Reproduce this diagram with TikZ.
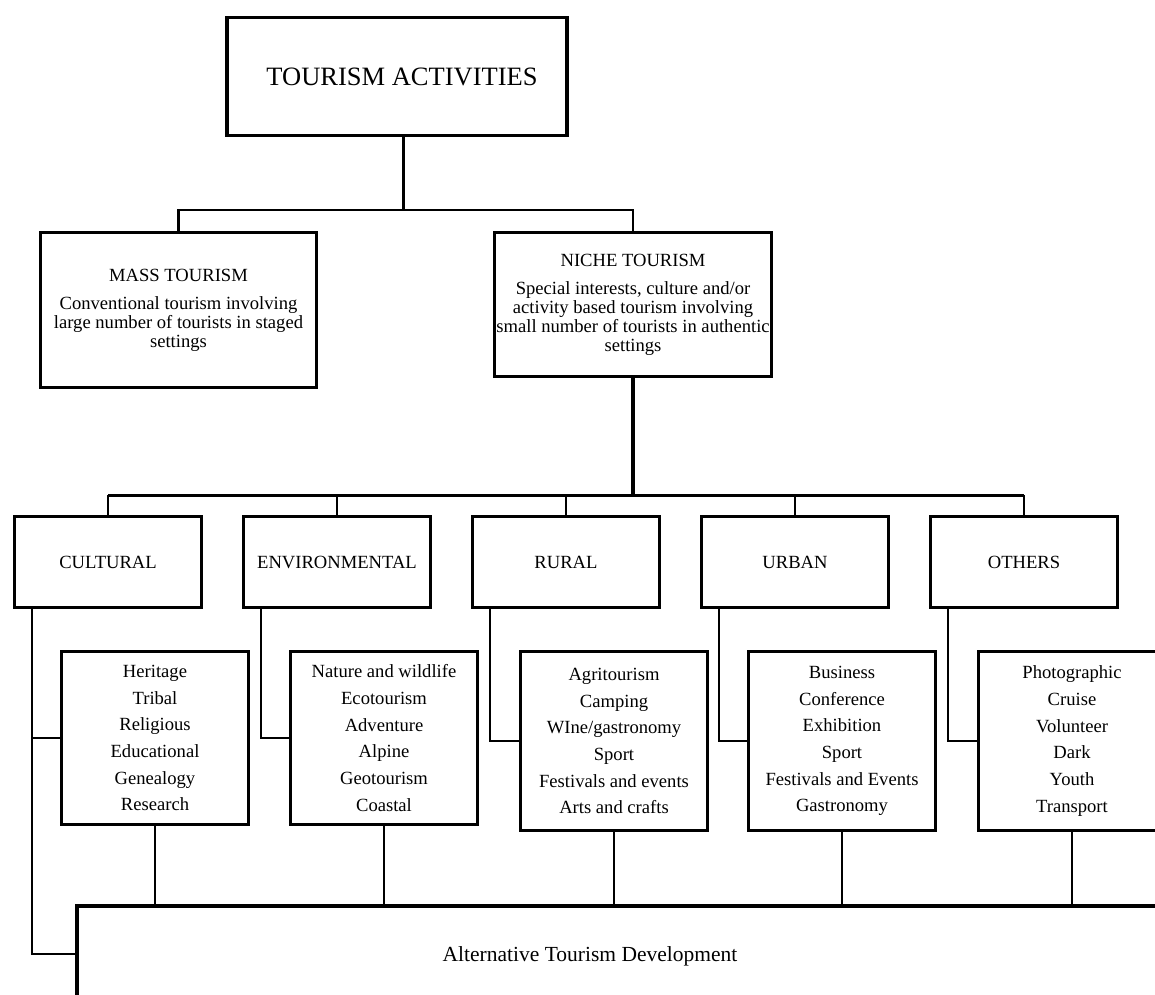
\documentclass[tikz,border=0pt]{standalone}
\usepackage{fontspec}
\setmainfont{Liberation Serif}
\tikzset{
  box/.style  = {draw, line width=3.5pt, align=center, inner sep=0pt},
  head/.style = {box, font=\fontsize{18.6}{19}\selectfont},
  cat/.style  = {box, minimum width=187pt, minimum height=91pt,
                 font=\fontsize{18.6}{22}\selectfont},
  list/.style = {box, minimum width=187pt, font=\fontsize{18.6}{26.7}\selectfont},
  link/.style = {line width=2pt},
  trunk/.style = {line width=3pt}
}

\begin{document}
\begin{tikzpicture}[x=1pt,y=-1pt]
\useasboundingbox (0,0) rectangle (1155,994);
\clip (0,0) rectangle (1155,994);

\node[box, minimum width=340pt, minimum height=118pt,
      font=\fontsize{26.5}{32}\selectfont] (top) at (397,76.5) {\hspace*{10pt}TOURISM ACTIVITIES};
\node[head, minimum width=276pt, minimum height=155pt] (mass) at (178.5,310)
  {MASS TOURISM\\[9pt] Conventional tourism involving\\ large number of tourists in staged\\ settings};
\node[head, minimum width=277pt, minimum height=144pt] (niche) at (633,304.5)
  {NICHE TOURISM\\[9pt] Special interests, culture and/or\\ activity based tourism involving\\
   small number of tourists in authentic\\ settings};

% second level
\foreach \n/\t [count=\i from 0] in {cult/CULTURAL, env/ENVIRONMENTAL, rur/RURAL, urb/URBAN, oth/OTHERS}
  \node[cat] (\n) at (108+229*\i,562) {\t};

\node[list, minimum height=173pt] (cult-list) at (155,738)
  {Heritage\\ Tribal\\ Religious\\ Educational\\ Genealogy\\ Research};
\node[list, minimum height=173pt] (env-list) at (384,738)
  {Nature and wildlife\\ Ecotourism\\ Adventure\\ Alpine\\ Geotourism\\ Coastal};
\node[list, minimum height=179pt] (rur-list) at (614,741)
  {Agritourism\\ Camping\\ WIne/gastronomy\\ Sport\\ Festivals and events\\ Arts and crafts};
\node[list, minimum height=179pt] (urb-list) at (842,741)
  {Business\\ Conference\\ Exhibition\\ Sport\\ Festivals and Events\\ Gastronomy};
\node[list, minimum height=179pt] (oth-list) at (1072,741)
  {Photographic\\ Cruise\\ Volunteer\\ Dark\\ Youth\\ Transport};

% bottom box runs off the page
\node[box, minimum width=1126pt, minimum height=96pt] (alt) at (640,954) {};
\node[font=\fontsize{21.5}{26}\selectfont] (alt-text) at (590,956) {Alternative Tourism Development};

% connectors
\coordinate (bus1) at (403,210);
\coordinate (bus2) at (633,495);
\draw[trunk] ([xshift=6pt]top.south) -- (bus1);
\draw[line width=2.5pt] (mass.north) |- (bus1) -| (niche.north);
\draw[line width=3.5pt] (niche.south) -- (bus2);
\draw[trunk] (cult.north |- bus2) -- (oth.north |- bus2);
\foreach \n in {cult,env,rur,urb,oth} {
  \draw[link] (\n.north) -- (\n.north |- bus2);
  \draw[link] ([xshift=19pt]\n.south west) |- (\n-list.west);
  \draw[link] (\n-list.south) -- (\n-list.south |- alt.north);
}
\draw[link] ([xshift=19pt]cult.south west) |- (alt.west);
\end{tikzpicture}
\end{document}
